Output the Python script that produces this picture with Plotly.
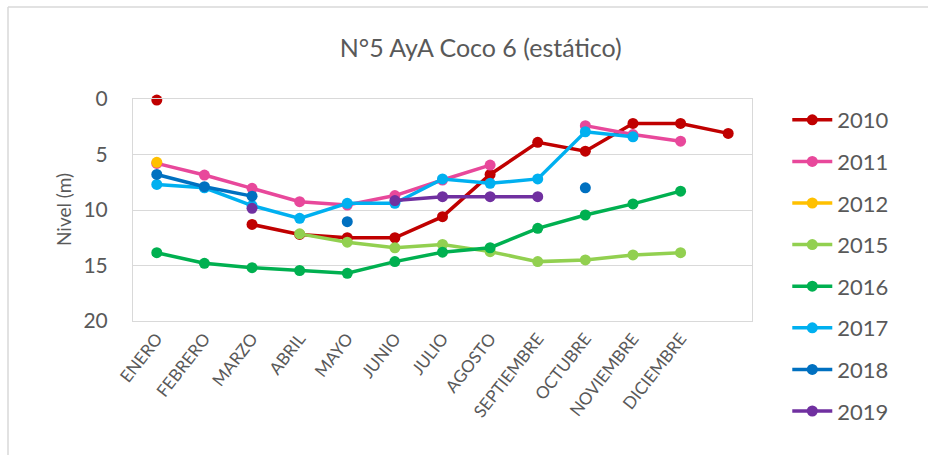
import plotly.graph_objects as go

# Month labels; the 13th slot is an unlabeled extra position on the category axis
months = ["ENERO", "FEBRERO", "MARZO", "ABRIL", "MAYO", "JUNIO", "JULIO",
          "AGOSTO", "SEPTIEMBRE", "OCTUBRE", "NOVIEMBRE", "DICIEMBRE", ""]

# Static water level (m) per year; None = no measurement
y2010 = [0.1, None, 11.3, 12.2, 12.5, 12.5, 10.6, 6.8, 3.9, 4.7, 2.2, 2.2, 3.1]
y2011 = [5.8, 6.85, 8.05, 9.25, 9.55, 8.7, 7.3, 5.95, None, 2.4, 3.2, 3.8, None]
y2012 = [5.7, None, None, None, None, None, None, None, None, None, None, None, None]
y2015 = [None, None, None, 12.15, 12.9, 13.4, 13.1, 13.75, 14.65, 14.5, 14.05, 13.85, None]
y2016 = [13.85, 14.8, 15.2, 15.45, 15.7, 14.65, 13.8, 13.4, 11.65, 10.45, 9.45, 8.3, None]
y2017 = [7.7, 8.0, 9.6, 10.75, 9.4, 9.4, 7.2, 7.6, 7.2, 2.95, 3.4, None, None]
y2018 = [6.8, 7.9, 8.75, None, 11.05, None, None, None, None, 8.0, None, None, None]
y2019 = [None, None, 9.85, None, None, 9.15, 8.8, 8.8, 8.8, None, None, None, None]

years = ["2010", "2011", "2012", "2015", "2016", "2017", "2018", "2019"]
series = [y2010, y2011, y2012, y2015, y2016, y2017, y2018, y2019]
colors = ["#C00000", "#E8489B", "#FFC000", "#92D050", "#00B050",
          "#00B0F0", "#0070C0", "#7030A0"]

x = list(range(len(months)))
font = "Lato, 'Open Sans', sans-serif"
grey = "#595959"

fig = go.Figure()
for name, vals, col in zip(years, series, colors):
    fig.add_trace(go.Scatter(
        x=x, y=vals, name=name, mode="lines+markers",
        line=dict(color=col, width=3.5),
        marker=dict(color=col, size=11),
        legendgroup=name,
        connectgaps=False,
        cliponaxis=False,
    ))

fig.update_layout(
    width=928, height=455,
    margin=dict(l=133, r=176, t=99, b=134),
    paper_bgcolor="white", plot_bgcolor="white",
    font=dict(family=font, color=grey),
    title=dict(text="N°5 AyA Coco 6 (estático)", x=0.518, xref="container",
               xanchor="center", y=0.895, yref="container", yanchor="middle",
               font=dict(size=25, color=grey, family=font)),
    showlegend=True,
    legend=dict(x=1.057, xanchor="left", y=1.0, yanchor="top",
                font=dict(size=22, color=grey, family=font),
                tracegroupgap=10, itemwidth=40, maxheight=440,
                bgcolor="rgba(0,0,0,0)"),
)

fig.update_xaxes(
    range=[-0.5, 12.5], tickmode="array", tickvals=x[:12], ticktext=months[:12],
    tickangle=-52, tickfont=dict(size=17, color=grey),
    showgrid=False, showline=True, linecolor="#D9D9D9", mirror=True,
    zeroline=False, ticks="",
)
fig.update_yaxes(
    range=[20, 0], tickvals=[0, 5, 10, 15, 20],
    tickfont=dict(size=21, color=grey),
    showgrid=True, gridcolor="#D9D9D9", gridwidth=1,
    showline=True, linecolor="#D9D9D9", mirror=True,
    zeroline=False, ticks="", ticklabelstandoff=20,
)

# Axis title
fig.add_annotation(text="Nivel (m)", xref="paper", yref="paper",
                   x=(63 - 133) / 619, y=0.5, xanchor="center", yanchor="middle",
                   textangle=-90, showarrow=False,
                   font=dict(size=19, color=grey, family=font))

# Chart frame edges (top and left)
px = lambda v: (v - 133) / 619
py = lambda v: (321 - v) / 222
fig.add_shape(type="line", xref="paper", yref="paper",
              x0=px(8), x1=px(928), y0=py(7), y1=py(7),
              line=dict(color="#D9D9D9", width=1.5))
fig.add_shape(type="line", xref="paper", yref="paper",
              x0=px(8), x1=px(8), y0=py(7), y1=py(455),
              line=dict(color="#D9D9D9", width=1.5))

fig.write_html("out.html")
